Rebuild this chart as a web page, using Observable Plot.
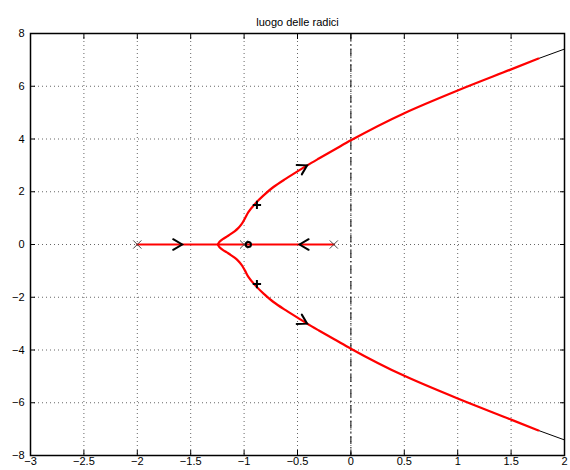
<!DOCTYPE html>
<html>
<head>
<meta charset="utf-8">
<script src="https://cdn.jsdelivr.net/npm/d3@7"></script>
<script src="https://cdn.jsdelivr.net/npm/@observablehq/plot@0.6"></script>
<style>
  body { margin: 0; background: #fff; }
  svg { display: block; }
</style>
</head>
<body>
<div id="chart"></div>
<script>
// ---- data ----
const titleText = "luogo delle radici";
const xTicks = [-3, -2.5, -2, -1.5, -1, -0.5, 0, 0.5, 1, 1.5, 2];
const yTicks = [-8, -6, -4, -2, 0, 2, 4, 6, 8];

// complex branches (upper / lower)
const upperX = [-1.245, -1.230, -1.200, -1.162, -1.124, -1.089, -1.055, -1.022, -0.993, -0.960, -0.896, -0.815, -0.725, -0.615, -0.5, -0.41, -0.3, -0.16, 0.0, 0.5, 1.0, 1.5, 1.756];
const upperY = [0, 0.1, 0.2, 0.3, 0.4, 0.5, 0.62, 0.78, 0.98, 1.23, 1.55, 1.87, 2.18, 2.48, 2.77, 3.0, 3.26, 3.58, 3.95, 4.98, 5.84, 6.64, 7.05];
const lowerX = upperX;
const lowerY = [0, -0.1, -0.2, -0.3, -0.4, -0.5, -0.62, -0.78, -0.98, -1.23, -1.55, -1.87, -2.18, -2.48, -2.77, -3.0, -3.26, -3.58, -3.95, -4.98, -5.84, -6.64, -7.05];
// thin black continuation beyond the red part
const extX = [1.756, 2.0];
const extUpperY = [7.05, 7.41];
const extLowerY = [-7.05, -7.41];
// real-axis segment
const realX = [-2, -0.16];
const realY = [0, 0];
// poles, zero, gain markers
const poleX = [-2, -1, -0.16];
const zeroX = [-0.96];
const markX = [-0.88, -0.88];
const markY = [1.5, -1.5];
// direction arrows
const arrowX = [-1.58, -0.48, -0.41, -0.41];
const arrowY = [0, 0, 3.0, -3.0];
const arrowAngle = [90, -90, 61, 119];

// ---- build tables ----
const pts = (xs, ys) => xs.map((x, i) => ({x, y: ys[i]}));
const upper = pts(upperX, upperY);
const lower = pts(lowerX, lowerY).reverse();
const blackUpper = pts(extX, extUpperY);
const blackLower = pts(extX, extLowerY);
const realSeg = pts(realX, realY);
const poles = poleX.map(x => ({x, y: 0}));
const zeros = zeroX.map(x => ({x, y: 0}));
const marks = pts(markX, markY);
const arrows = arrowX.map((x, i) => ({x, y: arrowY[i], a: arrowAngle[i]}));

const fmt = d => (d < 0 ? "\u2212" + Math.abs(d) : String(d));
const chevron = {
  draw(context, l) {
    context.moveTo(-5.3, -l + 9);
    context.lineTo(0, -l);
    context.lineTo(5.3, -l + 9);
  }
};
const font = "Liberation Sans, Arial, Helvetica, sans-serif";
const red = "#ff0000";

const chart = Plot.plot({
  width: 570,
  height: 470,
  marginLeft: 30,
  marginRight: 6,
  marginTop: 33,
  marginBottom: 15,
  style: {fontFamily: font, fontSize: "11px", background: "#fff", color: "#000"},
  x: {domain: [-3, 2]},
  y: {domain: [-8, 8]},
  marks: [
    Plot.gridX(xTicks.slice(1, -1), {stroke: "#000", strokeOpacity: 0.6, strokeDasharray: "1,3", strokeWidth: 1}),
    Plot.gridY(yTicks.slice(1, -1), {stroke: "#000", strokeOpacity: 0.6, strokeDasharray: "1,3", strokeWidth: 1}),
    Plot.ruleX([0], {stroke: "#000", strokeWidth: 1, strokeDasharray: "8,3,1.5,3"}),
    // tick marks inside the box
    Plot.axisX(xTicks, {anchor: "bottom", label: null, tickSize: -5, tickFormat: () => "", stroke: "#000"}),
    Plot.axisX(xTicks, {anchor: "top", label: null, tickSize: -5, tickFormat: () => "", stroke: "#000"}),
    Plot.axisY(yTicks, {anchor: "left", label: null, tickSize: -5, tickFormat: () => "", stroke: "#000"}),
    Plot.axisY(yTicks, {anchor: "right", label: null, tickSize: -5, tickFormat: () => "", stroke: "#000"}),
    // labels
    Plot.axisX(xTicks, {anchor: "bottom", label: null, tickSize: 0, tickPadding: 2, tickFormat: fmt, fontSize: 11}),
    Plot.axisY(yTicks, {anchor: "left", label: null, tickSize: 0, tickPadding: 6, tickFormat: fmt, fontSize: 11}),
    // thin black locus continuation
    Plot.line(blackUpper, {x: "x", y: "y", stroke: "#000", strokeWidth: 1}),
    Plot.line(blackLower, {x: "x", y: "y", stroke: "#000", strokeWidth: 1}),
    // red locus
    Plot.line(realSeg, {x: "x", y: "y", stroke: red, strokeWidth: 2.2}),
    Plot.line(upper, {x: "x", y: "y", stroke: red, strokeWidth: 2.2, curve: "monotone-y"}),
    Plot.line(lower, {x: "x", y: "y", stroke: red, strokeWidth: 2.2, curve: "monotone-y"}),
    // markers
    Plot.dot(poles, {x: "x", y: "y", symbol: "times", r: 3.8, stroke: "#444", strokeWidth: 1}),
    Plot.dot(zeros, {x: "x", y: "y", symbol: "circle", r: 2.6, stroke: "#000", strokeWidth: 2, fill: "none"}),
    Plot.dot(marks, {x: "x", y: "y", symbol: "plus", r: 2.8, stroke: "#000", strokeWidth: 2}),
    Plot.vector(arrows, {x: "x", y: "y", rotate: "a", length: 1, anchor: "end", shape: chevron, stroke: "#000", strokeWidth: 2, strokeLinejoin: "miter"}),
    Plot.frame({stroke: "#000", strokeWidth: 1.5}),
    Plot.text([titleText], {frameAnchor: "top", dy: -15, fontSize: 11, fill: "#000"})
  ]
});
document.getElementById("chart").appendChild(chart);
</script>
</body>
</html>
